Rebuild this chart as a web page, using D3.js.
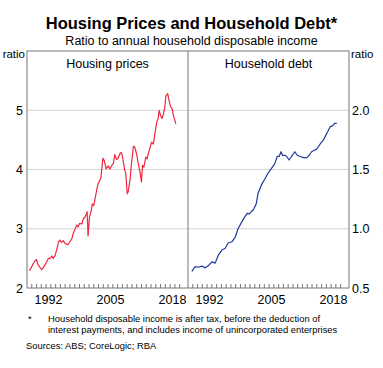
<!DOCTYPE html>
<html>
<head>
<meta charset="utf-8">
<script src="https://cdn.jsdelivr.net/npm/d3@7"></script>
<style>
  body { margin: 0; background: #fff; }
  text { font-family: "Liberation Sans", Arial, sans-serif; fill: #000; }
</style>
</head>
<body>
<div id="chart"></div>
<script>
// housing prices to income, [year, ratio]
const housingPrices = [
  [1988.5, 2.29], [1989.0, 2.36], [1989.3, 2.41], [1989.7, 2.46], [1990.0, 2.48],
  [1990.2, 2.41], [1990.7, 2.35], [1991.1, 2.31], [1991.4, 2.34], [1992.1, 2.44],
  [1992.5, 2.50], [1992.8, 2.50], [1993.2, 2.54], [1993.5, 2.50], [1993.9, 2.55],
  [1994.2, 2.64], [1994.4, 2.70], [1994.6, 2.78], [1994.9, 2.81], [1995.2, 2.77],
  [1995.6, 2.80], [1995.9, 2.76], [1996.3, 2.74], [1996.6, 2.73], [1997.0, 2.78],
  [1997.4, 2.83], [1997.7, 2.92], [1998.1, 3.00], [1998.4, 3.06], [1998.7, 3.03],
  [1999.0, 3.09], [1999.5, 3.08], [1999.8, 3.17], [2000.1, 3.19], [2000.4, 3.24],
  [2000.6, 3.29], [2000.8, 2.88], [2001.1, 3.20], [2001.4, 3.28], [2001.7, 3.42],
  [2002.0, 3.39], [2002.6, 3.65], [2002.9, 3.76], [2003.2, 3.80], [2003.5, 3.87],
  [2003.9, 4.19], [2004.2, 4.15], [2004.6, 4.01], [2005.0, 4.06], [2005.4, 4.01],
  [2005.7, 4.06], [2006.1, 4.10], [2006.4, 4.25], [2006.8, 4.17], [2007.1, 4.19],
  [2007.5, 4.27], [2007.8, 4.29], [2008.1, 4.18], [2008.5, 3.98], [2008.7, 3.95],
  [2009.0, 3.59], [2009.2, 3.62], [2009.6, 3.83], [2009.9, 4.10], [2010.3, 4.39],
  [2010.6, 4.38], [2011.0, 4.25], [2011.3, 4.11], [2011.7, 3.95], [2012.0, 3.79],
  [2012.2, 4.07], [2012.5, 4.04], [2012.9, 4.21], [2013.2, 4.18], [2013.4, 4.26],
  [2013.8, 4.37], [2014.1, 4.46], [2014.5, 4.43], [2014.8, 4.60], [2015.2, 4.80],
  [2015.5, 4.86], [2015.7, 5.00], [2016.0, 4.91], [2016.3, 4.86], [2016.6, 4.94],
  [2016.9, 5.05], [2017.1, 5.24], [2017.5, 5.28], [2017.8, 5.16], [2018.1, 5.06],
  [2018.4, 5.03], [2018.7, 4.91], [2019.2, 4.77]
];

// household debt to income, [year, ratio]
const householdDebt = [
  [1988.8, 0.64], [1989.5, 0.68], [1990.2, 0.675], [1990.9, 0.685], [1991.6, 0.67],
  [1992.3, 0.69], [1993.0, 0.72], [1993.7, 0.71], [1994.4, 0.78], [1995.1, 0.82],
  [1995.8, 0.835], [1996.4, 0.88], [1997.2, 0.89], [1997.9, 0.93], [1998.5, 1.00],
  [1999.3, 1.06], [1999.9, 1.10], [2000.4, 1.13], [2000.8, 1.125], [2001.7, 1.16],
  [2002.3, 1.21], [2002.7, 1.30], [2003.4, 1.37], [2004.1, 1.42], [2004.8, 1.47],
  [2005.5, 1.51], [2006.2, 1.55], [2006.7, 1.61], [2007.1, 1.61], [2007.5, 1.65],
  [2007.8, 1.62], [2008.3, 1.62], [2008.7, 1.61], [2009.2, 1.58], [2009.7, 1.61],
  [2010.4, 1.65], [2010.9, 1.62], [2011.5, 1.61], [2012.2, 1.60], [2012.9, 1.60],
  [2013.4, 1.62], [2013.9, 1.65], [2014.4, 1.66], [2014.9, 1.67], [2015.3, 1.69],
  [2015.8, 1.72], [2016.4, 1.75], [2016.9, 1.79], [2017.3, 1.82], [2017.8, 1.86],
  [2018.3, 1.87], [2018.8, 1.89], [2019.2, 1.89]
];

const yearLabels = [1992, 2005, 2018];
const leftTicks = [2, 3, 4, 5];
const rightTicks = [0.5, 1.0, 1.5, 2.0];

const width = 383, height = 368;
const plotLeft = 27, plotMid = 188, plotRight = 349, plotTop = 51, plotBottom = 288;

const svg = d3.select("#chart")
  .append("svg")
  .attr("width", width)
  .attr("height", height);

// scales
const xLeft = d3.scaleLinear().domain([1988, 2021.75]).range([plotLeft, plotMid]);
const xRight = d3.scaleLinear().domain([1988, 2021.75]).range([plotMid, plotRight]);
const yLeft = d3.scaleLinear().domain([2, 6]).range([plotBottom, plotTop]);
const yRight = d3.scaleLinear().domain([0.5, 2.5]).range([plotBottom, plotTop]);

// gridlines
svg.append("g")
  .selectAll("line")
  .data(leftTicks.slice(1))
  .join("line")
  .attr("x1", plotLeft)
  .attr("x2", plotRight)
  .attr("y1", d => yLeft(d))
  .attr("y2", d => yLeft(d))
  .attr("stroke", "#d4d4d4")
  .attr("stroke-width", 1);

// year ticks along the bottom
const years = d3.range(1989, 2021);
[xLeft, xRight].forEach(x => {
  svg.append("g")
    .selectAll("line")
    .data(years)
    .join("line")
    .attr("x1", d => x(d))
    .attr("x2", d => x(d))
    .attr("y1", plotBottom)
    .attr("y2", plotBottom - 4)
    .attr("stroke", "#777")
    .attr("stroke-width", 1);

  svg.append("g")
    .selectAll("text")
    .data(yearLabels)
    .join("text")
    .attr("x", d => x(d + 0.5))
    .attr("y", plotBottom + 16)
    .attr("text-anchor", "middle")
    .style("font-size", "12.5px")
    .text(d => d);
});

// frame
svg.append("rect")
  .attr("x", plotLeft)
  .attr("y", plotTop)
  .attr("width", plotRight - plotLeft)
  .attr("height", plotBottom - plotTop)
  .attr("fill", "none")
  .attr("stroke", "#777")
  .attr("stroke-width", 1);

svg.append("line")
  .attr("x1", plotMid)
  .attr("x2", plotMid)
  .attr("y1", plotTop)
  .attr("y2", plotBottom)
  .attr("stroke", "#777")
  .attr("stroke-width", 1);

// y axis labels
svg.append("g")
  .selectAll("text")
  .data(leftTicks)
  .join("text")
  .attr("x", plotLeft - 4)
  .attr("y", d => yLeft(d) + 4.5)
  .attr("text-anchor", "end")
  .style("font-size", "12.5px")
  .text(d => d);

svg.append("g")
  .selectAll("text")
  .data(rightTicks)
  .join("text")
  .attr("x", plotRight + 3)
  .attr("y", d => yRight(d) + 4.5)
  .attr("text-anchor", "start")
  .style("font-size", "12.5px")
  .text(d => d.toFixed(1));

svg.append("text")
  .attr("x", plotLeft - 2)
  .attr("y", plotTop + 7)
  .attr("text-anchor", "end")
  .style("font-size", "11.5px")
  .text("ratio");

svg.append("text")
  .attr("x", plotRight + 2)
  .attr("y", plotTop + 7)
  .style("font-size", "11.5px")
  .text("ratio");

// panel titles
svg.append("text")
  .attr("x", (plotLeft + plotMid) / 2)
  .attr("y", plotTop + 17)
  .attr("text-anchor", "middle")
  .style("font-size", "12.5px")
  .text("Housing prices");

svg.append("text")
  .attr("x", (plotMid + plotRight) / 2)
  .attr("y", plotTop + 17)
  .attr("text-anchor", "middle")
  .style("font-size", "12.5px")
  .text("Household debt");

// lines
svg.append("path")
  .datum(housingPrices)
  .attr("fill", "none")
  .attr("stroke", "#f0283e")
  .attr("stroke-width", 1.2)
  .attr("stroke-linejoin", "round")
  .attr("d", d3.line()
    .x(d => xLeft(d[0]))
    .y(d => yLeft(d[1]))
  );

svg.append("path")
  .datum(householdDebt)
  .attr("fill", "none")
  .attr("stroke", "#24399c")
  .attr("stroke-width", 1.2)
  .attr("stroke-linejoin", "round")
  .attr("d", d3.line()
    .x(d => xRight(d[0]))
    .y(d => yRight(d[1]))
  );

// titles
svg.append("text")
  .attr("x", width / 2)
  .attr("y", 29)
  .attr("text-anchor", "middle")
  .style("font-size", "16.5px")
  .style("font-weight", "bold")
  .text("Housing Prices and Household Debt*");

svg.append("text")
  .attr("x", width / 2)
  .attr("y", 45)
  .attr("text-anchor", "middle")
  .style("font-size", "12.5px")
  .text("Ratio to annual household disposable income");

// notes
const notes = svg.append("g").style("font-size", "9.4px");
notes.append("text").attr("x", 28).attr("y", 322).text("*");
notes.append("text").attr("x", 48).attr("y", 321.5)
  .text("Household disposable income is after tax, before the deduction of");
notes.append("text").attr("x", 48).attr("y", 332.5)
  .text("interest payments, and includes income of unincorporated enterprises");
notes.append("text").attr("x", 26).attr("y", 349)
  .text("Sources: ABS; CoreLogic; RBA");
</script>
</body>
</html>
